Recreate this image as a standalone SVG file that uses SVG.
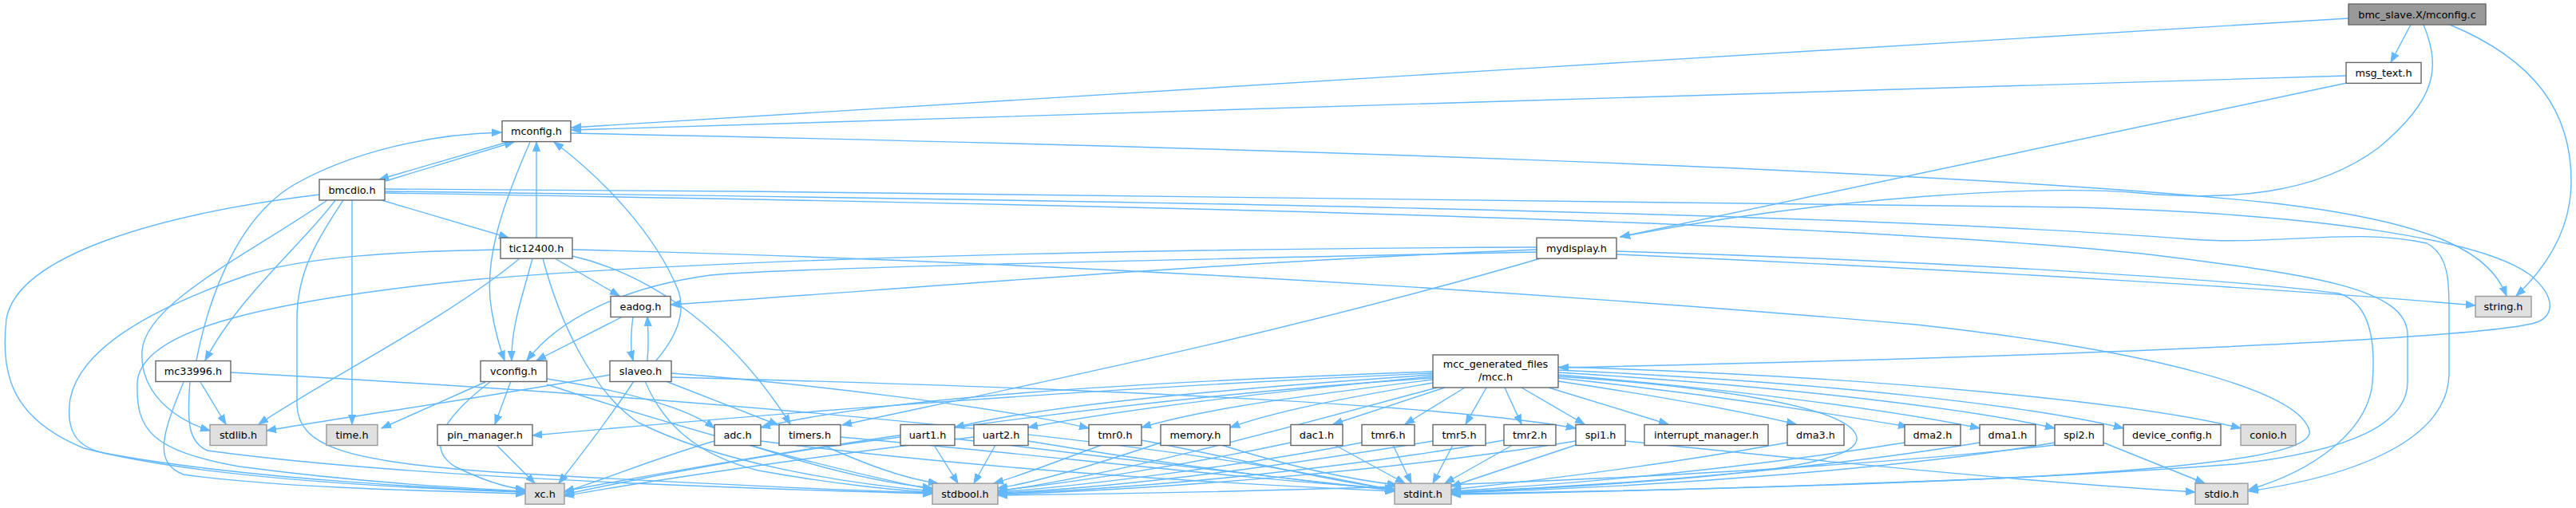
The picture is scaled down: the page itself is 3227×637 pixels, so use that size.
<svg xmlns="http://www.w3.org/2000/svg" width="3227" height="637" viewBox="0 0 3227 637">
<style>
.e{fill:none;stroke:#63b8ff;stroke-width:1.4;marker-end:url(#a)}
.n rect{fill:#ffffff;stroke:#666666;stroke-width:1.4}
.n.g rect{fill:#e0e0e0;stroke:#999999}
.n.r rect{fill:#999999;stroke:#666666}
.n text{font-family:"DejaVu Sans","Liberation Sans",sans-serif;font-size:12.8px;fill:#000000;text-anchor:middle}
</style>
<defs>
<marker id="a" markerUnits="userSpaceOnUse" markerWidth="13" markerHeight="10" refX="12" refY="5" orient="auto">
<path d="M0,0.5 L12,5 L0,9.5 z" fill="#63b8ff" stroke="#63b8ff" stroke-width="1"/>
</marker>
</defs>
<rect width="3227" height="637" fill="#ffffff"/>
<g id="edges">
<path class="e" d="M3020,31 L2995,78"/>
<path class="e" d="M2942,23 C2300,60 1300,125 716,160"/>
<path class="e" d="M3036,31 C3058,85 3052,125 2980,185 C2900,245 2790,252 2680,242 C2560,232 2300,245 2030,297"/>
<path class="e" d="M3069,31 C3175,75 3222,140 3221,230 C3220,290 3190,335 3152,371"/>
<path class="e" d="M2939,95 C2300,113 1300,146 716,163"/>
<path class="e" d="M2940,104 L2030,297"/>
<path class="e" d="M636,178 L475,225"/>
<path class="e" d="M664,178 C628,260 605,330 616,390 C621,420 627,438 632,452"/>
<path class="e" d="M715,167 C1500,183 2450,212 2850,255 C3060,280 3120,320 3140,371"/>
<path class="e" d="M483,227 L644,178"/>
<path class="e" d="M478,251 L637,298"/>
<path class="e" d="M441,251 L441,532"/>
<path class="e" d="M420,251 C385,300 300,370 257,452"/>
<path class="e" d="M410,251 C310,320 182,380 178,440 C175,490 215,525 263,540"/>
<path class="e" d="M400,244 C200,268 22,320 8,400 C0,470 15,525 105,562 C250,600 500,612 658,617"/>
<path class="e" d="M430,251 C398,300 372,340 372,400 L372,505 C372,560 430,578 620,592 C900,608 1060,615 1168,618"/>
<path class="e" d="M482,237 C1300,242 2250,250 2600,260 C2900,268 3110,300 3170,345 C3205,375 3198,398 3175,405 C3100,425 2600,447 1953,461"/>
<path class="e" d="M482,240 C1300,250 2300,265 2744,300 C2850,308 2950,285 3040,305 C3068,320 3068,350 3068,400 L3068,470 C3066,540 2980,592 2817,616"/>
<path class="e" d="M482,242 C1300,255 2300,275 2700,320 C2900,345 3016,362 3016,420 L3016,480 C3015,530 2950,565 2800,582 C2500,605 2100,615 1818,619"/>
<path class="e" d="M246,452 C258,390 290,280 366,233 C440,190 540,168 628,166"/>
<path class="e" d="M251,479 L283,532"/>
<path class="e" d="M230,479 C205,540 190,580 230,595 C350,612 550,616 658,619"/>
<path class="e" d="M238,479 C234,530 236,555 260,565 C500,598 900,612 1168,619"/>
<path class="e" d="M289,467 C800,495 1400,540 1747,615"/>
<path class="e" d="M672,298 L672,178"/>
<path class="e" d="M667,324 C655,370 640,410 641,452"/>
<path class="e" d="M695,324 L776,371"/>
<path class="e" d="M651,324 C560,400 400,480 324,532"/>
<path class="e" d="M627,313 C500,315 380,322 310,345 C180,390 100,440 88,500 C82,540 95,560 130,568 C300,600 550,612 658,617"/>
<path class="e" d="M680,324 C700,400 740,490 800,530 C900,580 1050,605 1168,616"/>
<path class="e" d="M717,321 C820,345 920,420 990,532"/>
<path class="e" d="M717,313 C1200,325 1800,355 2400,407 C2700,440 2880,490 2893,540 C2898,565 2800,585 2500,600 C2200,612 2000,617 1818,620"/>
<path class="e" d="M1925,313 C1500,330 1100,365 840,382"/>
<path class="e" d="M1925,316 C1500,325 1000,335 890,345 C780,360 700,400 660,452"/>
<path class="e" d="M1925,310 C1400,312 900,325 600,350 C300,380 175,420 172,480 C170,540 190,565 300,585 C450,605 580,612 658,616"/>
<path class="e" d="M1930,324 C1600,420 1300,480 1055,533"/>
<path class="e" d="M2025,315 C2400,326 2800,350 2930,368 C2970,380 2976,430 2972,480 C2966,540 2900,590 2817,614"/>
<path class="e" d="M2025,319 C2500,340 2900,365 3101,383"/>
<path class="e" d="M780,397 L672,452"/>
<path class="e" d="M793,397 C790,420 790,440 793,452"/>
<path class="e" d="M811,452 C813,430 812,415 811,397"/>
<path class="e" d="M822,452 C845,425 860,395 850,365 C820,290 750,220 694,178"/>
<path class="e" d="M794,478 C760,530 720,580 700,606"/>
<path class="e" d="M808,478 C830,530 870,570 950,590 C1050,608 1120,614 1168,618"/>
<path class="e" d="M834,478 L975,533"/>
<path class="e" d="M764,470 C600,500 450,520 334,540"/>
<path class="e" d="M841,468 C1000,480 1250,510 1364,537"/>
<path class="e" d="M841,473 C1300,485 1800,505 1974,537"/>
<path class="e" d="M640,478 L620,532"/>
<path class="e" d="M615,478 C560,520 530,560 570,585 C610,605 640,612 658,614"/>
<path class="e" d="M608,479 L478,537"/>
<path class="e" d="M685,475 C780,490 860,510 895,537"/>
<path class="e" d="M685,482 C800,520 1000,580 1168,614"/>
<path class="e" d="M622,558 L670,606"/>
<path class="e" d="M1795,468 C1300,490 900,525 667,546"/>
<path class="e" d="M1795,474 C1400,500 1000,560 707,616"/>
<path class="e" d="M1800,486 C1600,540 1400,595 1250,616"/>
<path class="e" d="M1795,466 C1400,480 1100,500 953,536"/>
<path class="e" d="M1795,470 C1500,490 1300,510 1196,536"/>
<path class="e" d="M1795,472 C1550,495 1400,515 1288,536"/>
<path class="e" d="M1795,476 C1600,500 1500,515 1430,536"/>
<path class="e" d="M1795,480 C1680,500 1600,515 1541,536"/>
<path class="e" d="M1810,486 L1670,532"/>
<path class="e" d="M1835,486 L1760,532"/>
<path class="e" d="M1862,486 L1836,532"/>
<path class="e" d="M1885,486 L1906,532"/>
<path class="e" d="M1906,486 L1985,532"/>
<path class="e" d="M1940,486 L2090,532"/>
<path class="e" d="M1952,478 C2100,500 2200,520 2250,532"/>
<path class="e" d="M1952,474 C2150,495 2300,520 2390,535"/>
<path class="e" d="M1952,470 C2200,490 2400,520 2480,537"/>
<path class="e" d="M1952,467 C2250,485 2480,515 2574,537"/>
<path class="e" d="M1952,464 C2300,480 2550,510 2660,537"/>
<path class="e" d="M1952,460 C2350,472 2680,505 2807,537"/>
<path class="e" d="M1952,472 C2150,485 2310,510 2325,545 C2340,580 2200,600 1818,618"/>
<path class="e" d="M895,553 C820,575 760,600 707,617"/>
<path class="e" d="M940,558 C1020,585 1100,605 1168,612"/>
<path class="e" d="M953,553 C1200,585 1500,605 1747,616"/>
<path class="e" d="M1030,558 C1080,580 1130,600 1175,606"/>
<path class="e" d="M1053,548 C1300,570 1550,600 1747,613"/>
<path class="e" d="M1128,548 C950,570 800,600 707,620"/>
<path class="e" d="M1170,558 L1200,606"/>
<path class="e" d="M1196,550 C1400,575 1600,600 1747,614"/>
<path class="e" d="M1220,548 C1000,575 800,605 707,622"/>
<path class="e" d="M1247,558 L1220,606"/>
<path class="e" d="M1288,553 C1450,580 1600,600 1747,615"/>
<path class="e" d="M1380,558 C1320,580 1280,596 1245,606"/>
<path class="e" d="M1430,552 C1550,575 1650,600 1747,614"/>
<path class="e" d="M1454,555 C1380,580 1300,605 1250,612"/>
<path class="e" d="M1530,558 C1600,580 1680,600 1750,608"/>
<path class="e" d="M1617,555 C1500,580 1350,605 1250,615"/>
<path class="e" d="M1672,558 L1760,606"/>
<path class="e" d="M1706,555 C1550,585 1350,610 1250,617"/>
<path class="e" d="M1745,558 L1768,606"/>
<path class="e" d="M1795,553 C1600,585 1400,612 1250,618"/>
<path class="e" d="M1820,558 L1795,606"/>
<path class="e" d="M1884,552 C1700,585 1450,612 1250,619"/>
<path class="e" d="M1895,558 L1810,606"/>
<path class="e" d="M1974,553 C1750,590 1450,614 1250,620"/>
<path class="e" d="M1980,556 L1818,610"/>
<path class="e" d="M2036,553 C2300,580 2550,605 2750,617"/>
<path class="e" d="M2239,555 C2100,580 1950,600 1818,614"/>
<path class="e" d="M2386,555 C2200,585 2000,605 1818,616"/>
<path class="e" d="M2480,555 C2300,585 2050,608 1818,617"/>
<path class="e" d="M2574,555 C2400,585 2100,610 1818,618"/>
<path class="e" d="M2574,558 C2300,590 1800,615 1250,621"/>
<path class="e" d="M2635,555 L2762,606"/>
</g>
<g id="n_mconfig_c" class="n r"><rect x="2942" y="5" width="172" height="26"/><text x="3028" y="22.5">bmc_slave.X/mconfig.c</text></g>
<g id="n_msg_text" class="n"><rect x="2939" y="78.4" width="94" height="26"/><text x="2986" y="95.9">msg_text.h</text></g>
<g id="n_mconfig" class="n"><rect x="629" y="151.6" width="86" height="26"/><text x="672" y="169.1">mconfig.h</text></g>
<g id="n_bmcdio" class="n"><rect x="400" y="225" width="82" height="26"/><text x="441" y="242.5">bmcdio.h</text></g>
<g id="n_tic12400" class="n"><rect x="627" y="298.2" width="90" height="26"/><text x="672" y="315.7">tic12400.h</text></g>
<g id="n_mydisplay" class="n"><rect x="1925" y="298.2" width="100" height="26"/><text x="1975" y="315.7">mydisplay.h</text></g>
<g id="n_eadog" class="n"><rect x="765" y="371.5" width="75" height="26"/><text x="802.5" y="389">eadog.h</text></g>
<g id="n_string" class="n g"><rect x="3101" y="371.5" width="70" height="26"/><text x="3136" y="389">string.h</text></g>
<g id="n_mc33996" class="n"><rect x="195" y="452.5" width="94" height="26"/><text x="242" y="470">mc33996.h</text></g>
<g id="n_vconfig" class="n"><rect x="602" y="452.5" width="83" height="26"/><text x="643.5" y="470">vconfig.h</text></g>
<g id="n_slaveo" class="n"><rect x="764" y="452.5" width="77" height="26"/><text x="802.5" y="470">slaveo.h</text></g>
<g id="n_mcc" class="n"><rect x="1795" y="445" width="157" height="41"/><text x="1873.5" y="461">mcc_generated_files</text><text x="1873.5" y="476.5">/mcc.h</text></g>
<g id="n_stdlib" class="n g"><rect x="263" y="532.5" width="71" height="26"/><text x="298.5" y="550">stdlib.h</text></g>
<g id="n_time" class="n g"><rect x="409" y="532.5" width="64" height="26"/><text x="441" y="550">time.h</text></g>
<g id="n_pin_manager" class="n"><rect x="548" y="532.5" width="119" height="26"/><text x="607.5" y="550">pin_manager.h</text></g>
<g id="n_adc" class="n"><rect x="895" y="532.5" width="58" height="26"/><text x="924" y="550">adc.h</text></g>
<g id="n_timers" class="n"><rect x="976" y="532.5" width="77" height="26"/><text x="1014.5" y="550">timers.h</text></g>
<g id="n_uart1" class="n"><rect x="1128" y="532.5" width="68" height="26"/><text x="1162" y="550">uart1.h</text></g>
<g id="n_uart2" class="n"><rect x="1220" y="532.5" width="68" height="26"/><text x="1254" y="550">uart2.h</text></g>
<g id="n_tmr0" class="n"><rect x="1364" y="532.5" width="66" height="26"/><text x="1397" y="550">tmr0.h</text></g>
<g id="n_memory" class="n"><rect x="1454" y="532.5" width="87" height="26"/><text x="1497.5" y="550">memory.h</text></g>
<g id="n_dac1" class="n"><rect x="1617" y="532.5" width="65" height="26"/><text x="1649.5" y="550">dac1.h</text></g>
<g id="n_tmr6" class="n"><rect x="1706" y="532.5" width="66" height="26"/><text x="1739" y="550">tmr6.h</text></g>
<g id="n_tmr5" class="n"><rect x="1795" y="532.5" width="66" height="26"/><text x="1828" y="550">tmr5.h</text></g>
<g id="n_tmr2" class="n"><rect x="1884" y="532.5" width="65" height="26"/><text x="1916.5" y="550">tmr2.h</text></g>
<g id="n_spi1" class="n"><rect x="1974" y="532.5" width="62" height="26"/><text x="2005" y="550">spi1.h</text></g>
<g id="n_interrupt_manager" class="n"><rect x="2060" y="532.5" width="155" height="26"/><text x="2137.5" y="550">interrupt_manager.h</text></g>
<g id="n_dma3" class="n"><rect x="2239" y="532.5" width="71" height="26"/><text x="2274.5" y="550">dma3.h</text></g>
<g id="n_dma2" class="n"><rect x="2386" y="532.5" width="70" height="26"/><text x="2421" y="550">dma2.h</text></g>
<g id="n_dma1" class="n"><rect x="2480" y="532.5" width="70" height="26"/><text x="2515" y="550">dma1.h</text></g>
<g id="n_spi2" class="n"><rect x="2574" y="532.5" width="61" height="26"/><text x="2604.5" y="550">spi2.h</text></g>
<g id="n_device_config" class="n"><rect x="2660" y="532.5" width="122" height="26"/><text x="2721" y="550">device_config.h</text></g>
<g id="n_conio" class="n g"><rect x="2807" y="532.5" width="69" height="26"/><text x="2841.5" y="550">conio.h</text></g>
<g id="n_xc" class="n g"><rect x="658" y="606.2" width="49" height="26"/><text x="682.5" y="623.7">xc.h</text></g>
<g id="n_stdbool" class="n g"><rect x="1168" y="606.2" width="82" height="26"/><text x="1209" y="623.7">stdbool.h</text></g>
<g id="n_stdint" class="n g"><rect x="1747" y="606.2" width="71" height="26"/><text x="1782.5" y="623.7">stdint.h</text></g>
<g id="n_stdio" class="n g"><rect x="2750" y="606.2" width="66" height="26"/><text x="2783" y="623.7">stdio.h</text></g>
</svg>
